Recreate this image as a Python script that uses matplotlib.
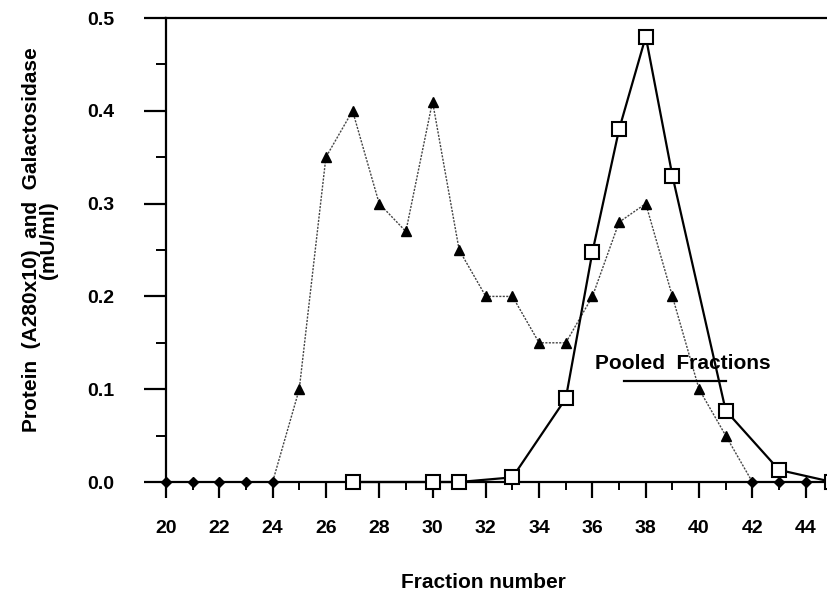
import numpy as np
import matplotlib
matplotlib.use("Agg")
import matplotlib.pyplot as plt
from matplotlib.ticker import MultipleLocator

plt.rcParams['font.family'] = ['Liberation Sans', 'DejaVu Sans']
plt.rcParams['font.weight'] = 'bold'

# protein (triangles), fractions 20..44
prot_x = np.arange(20, 45)
prot_y = [0, 0, 0, 0, 0, 0.10, 0.35, 0.40, 0.30, 0.27, 0.41, 0.25, 0.20, 0.20,
          0.15, 0.15, 0.20, 0.28, 0.30, 0.20, 0.10, 0.05, 0, 0, 0]

# galactosidase activity (open squares)
gal_x = [27, 30, 31, 33, 35, 36, 37, 38, 39, 41, 43, 45]
gal_y = [0, 0, 0, 0.005, 0.09, 0.248, 0.38, 0.48, 0.33, 0.077, 0.013, 0]

x_ticks = np.arange(20, 46, 2)
y_ticks = [0.0, 0.1, 0.2, 0.3, 0.4, 0.5]

pool_start, pool_end = 37.2, 41.0

fig = plt.figure(figsize=(8.27, 6.01), dpi=100)
ax = fig.add_axes([0.2007, 0.198, 0.7993, 0.772])

prot_x = np.asarray(prot_x)
prot_y = np.asarray(prot_y)
ax.plot(prot_x, prot_y, color='#444444', lw=1.0, ls=(0, (1.5, 1)), zorder=2)
nz = prot_y > 0
ax.plot(prot_x[nz], prot_y[nz], ls='none', marker='^', ms=6.5, color='black', zorder=3)
ax.plot(prot_x[~nz], prot_y[~nz], ls='none', marker='D', ms=5, color='black',
        zorder=3, clip_on=False)

ax.plot(gal_x, gal_y, color='black', lw=1.6, marker='s', ms=10,
        mfc='white', mec='black', mew=1.5, zorder=4, clip_on=False)

ax.set_xlim(20, 44.8)
ax.set_ylim(0, 0.5)
ax.set_xticks(x_ticks)
ax.xaxis.set_minor_locator(MultipleLocator(1))
ax.set_yticks(y_ticks)
ax.yaxis.set_minor_locator(MultipleLocator(0.05))
ax.set_yticklabels(['%.1f' % v for v in y_ticks])

ax.spines['right'].set_visible(False)
for s in ['left', 'bottom', 'top']:
    ax.spines[s].set_linewidth(1.6)

ax.tick_params(axis='x', which='major', direction='out', length=11.5, width=1.6,
               pad=16, labelsize=14)
ax.tick_params(axis='x', which='minor', direction='out', length=6, width=1.4)
ax.tick_params(axis='y', which='major', direction='out', length=16, width=1.6,
               pad=21, labelsize=14)
ax.tick_params(axis='y', which='minor', direction='out', length=7, width=1.4)
for lbl in ax.get_xticklabels() + ax.get_yticklabels():
    lbl.set_fontweight('bold')

fig.text(483 / 827, 1 - 583 / 601, 'Fraction number', fontsize=15,
         fontweight='bold', ha='center', va='center')
fig.text(40 / 827, 1 - 240 / 601,
         'Protein  (A280x10)  and  Galactosidase\n(mU/ml)', fontsize=15,
         fontweight='bold', ha='center', va='center', rotation=90,
         linespacing=0.85)

ax.text(39.4, 0.117, 'Pooled  Fractions', fontsize=15, fontweight='bold',
        ha='center', va='bottom')
ax.plot([pool_start, pool_end], [0.109, 0.109], color='black', lw=1.6)

fig.savefig('out.png', dpi=100)
